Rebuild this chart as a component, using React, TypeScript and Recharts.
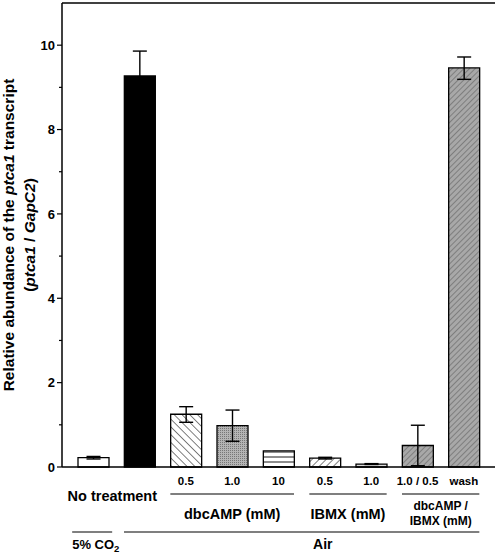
import { BarChart, Bar, XAxis, YAxis, Cell, ErrorBar, ReferenceLine } from 'recharts'

// one entry per bar, left to right
const CATEGORIES = ['co2', 'air', 'dbc05', 'dbc10', 'dbc100', 'ibmx05', 'ibmx10', 'mix', 'wash']
const TICK_LABELS = ['', '', '0.5', '1.0', '10', '0.5', '1.0', '1.0 / 0.5', 'wash']
const VALUES = [0.22, 9.27, 1.25, 0.98, 0.38, 0.21, 0.07, 0.51, 9.46]
// null = no error bar drawn
const ERR_LOW = [0.03, 0.6, 0.19, 0.37, null, 0.02, 0.01, 0.48, 0.27]
const ERR_HIGH = [0.03, 0.59, 0.18, 0.37, null, 0.02, 0.01, 0.48, 0.26]
const Y_TICKS = [0, 1, 2, 3, 4, 5, 6, 7, 8, 9, 10]

// treatment groups under the tick labels (index ranges into CATEGORIES)
const GROUPS = [
  { from: 2, to: 4, lines: ['dbcAMP (mM)'] },
  { from: 5, to: 6, lines: ['IBMX (mM)'] },
  { from: 7, to: 8, lines: ['dbcAMP /', 'IBMX (mM)'] },
]

const FILLS = ['#fff', '#000', 'url(#diagBack)', 'url(#dots)', 'url(#horiz)', 'url(#diagFwd)', '#dcdcdc', 'url(#grayDiag)', 'url(#grayDiag)']

const W = 498
const H = 553
const PAD = 8
const PLOT_LEFT = 62
const PLOT_RIGHT = 495
const STEP = (PLOT_RIGHT - PLOT_LEFT - 2 * PAD) / CATEGORIES.length
const BAR = 31
const HALF = BAR / 2
const FONT = 'Arial, "Liberation Sans", Helvetica, sans-serif'

const data = CATEGORIES.map((c, i) => ({
  cat: c,
  value: VALUES[i],
  err: ERR_LOW[i] == null ? null : [ERR_LOW[i], ERR_HIGH[i]],
}))

function XTick(props: any) {
  const { x, y, payload } = props
  const i = CATEGORIES.indexOf(payload.value)
  const txt = { fontFamily: FONT, fontWeight: 700, fill: '#000' }
  const group = GROUPS.find(g => g.from === i)
  return (
    <g>
      {TICK_LABELS[i] && (
        <text x={x} y={y + 18} textAnchor="middle" fontSize={11.5} {...txt}>{TICK_LABELS[i]}</text>
      )}
      {i === 0 && (
        <>
          <text x={x + STEP / 2 - 4} y={y + 34} textAnchor="middle" fontSize={14.5} {...txt}>No treatment</text>
          <line x1={x - 21} x2={x + 19} y1={y + 65} y2={y + 65} stroke="#000" strokeWidth={1.2} />
          <text x={x - 21} y={y + 82} fontSize={13} {...txt}>
            5% CO<tspan fontSize={9.5} dy={3}>2</tspan>
          </text>
        </>
      )}
      {i === 1 && (
        <>
          <line x1={x - HALF} x2={x + 7 * STEP + HALF} y1={y + 65} y2={y + 65} stroke="#000" strokeWidth={1.2} />
          <text x={x + 4 * STEP - 2} y={y + 82} textAnchor="middle" fontSize={14} {...txt}>Air</text>
        </>
      )}
      {group && (
        <>
          <line x1={x - HALF} x2={x + (group.to - group.from) * STEP + HALF} y1={y + 27} y2={y + 27} stroke="#000" strokeWidth={1.2} />
          {group.lines.length === 1 ? (
            <text x={x + (group.to - group.from) * STEP / 2} y={y + 52} textAnchor="middle" fontSize={14.5} {...txt}>{group.lines[0]}</text>
          ) : (
            group.lines.map((l, k) => (
              <text key={k} x={x + (group.to - group.from) * STEP / 2} y={y + 43 + k * 15} textAnchor="middle" fontSize={12} {...txt}>{l}</text>
            ))
          )}
        </>
      )}
    </g>
  )
}

function YTick(props: any) {
  const { y, payload } = props
  const major = payload.value % 2 === 0
  return (
    <g>
      <line x1={PLOT_LEFT - (major ? 5 : 3)} x2={PLOT_LEFT} y1={y} y2={y} stroke="#000" strokeWidth={1.2} />
      {major && (
        <text x={PLOT_LEFT - 7} y={y} dy="0.36em" textAnchor="end" fontSize={13} fontFamily={FONT} fontWeight={700} fill="#000">
          {payload.value}
        </text>
      )}
    </g>
  )
}

function YLabel(props: any) {
  const vb = props.viewBox ?? { y: 3, height: 464 }
  const cy = vb.y + vb.height / 2
  const txt = { fontFamily: FONT, fontWeight: 700, fontSize: 15.5, fill: '#000', textAnchor: 'middle' as const }
  return (
    <g>
      <text x={9} y={cy} dy="0.35em" transform={`rotate(-90 9 ${cy})`} {...txt}>
        Relative abundance of the <tspan fontStyle="italic">ptca1</tspan> transcript
      </text>
      <text x={30} y={cy} dy="0.35em" transform={`rotate(-90 30 ${cy})`} {...txt}>
        (<tspan fontStyle="italic">ptca1</tspan> / <tspan fontStyle="italic">GapC2</tspan>)
      </text>
    </g>
  )
}

export default function App() {
  return (
    <div style={{ position: 'absolute', left: 0, top: 0, width: W, height: H, background: '#fff' }}>
      <BarChart width={W} height={H} data={data} margin={{ top: 3, right: W - PLOT_RIGHT, left: 0, bottom: 0 }}>
        <defs>
          <pattern id="diagBack" width={5.5} height={5.5} patternUnits="userSpaceOnUse" patternTransform="rotate(-45)">
            <rect width={5.5} height={5.5} fill="#fff" />
            <line x1={0} y1={0} x2={0} y2={5.5} stroke="#000" strokeWidth={1} />
          </pattern>
          <pattern id="diagFwd" width={5} height={5} patternUnits="userSpaceOnUse" patternTransform="rotate(45)">
            <rect width={5} height={5} fill="#fff" />
            <line x1={0} y1={0} x2={0} y2={5} stroke="#000" strokeWidth={1} />
          </pattern>
          <pattern id="horiz" width={6} height={5} patternUnits="userSpaceOnUse">
            <rect width={6} height={5} fill="#fff" />
            <line x1={0} y1={2} x2={6} y2={2} stroke="#000" strokeWidth={0.9} />
          </pattern>
          <pattern id="dots" width={2} height={2} patternUnits="userSpaceOnUse">
            <rect width={2} height={2} fill="#b4b4b4" />
            <rect width={1} height={1} fill="#777" />
          </pattern>
          <pattern id="grayDiag" width={4} height={4} patternUnits="userSpaceOnUse" patternTransform="rotate(45)">
            <rect width={4} height={4} fill="#a8a8a8" />
            <line x1={0} y1={0} x2={0} y2={4} stroke="#555" strokeWidth={1} />
          </pattern>
        </defs>
        <XAxis
          dataKey="cat"
          height={H - 467}
          padding={{ left: PAD, right: PAD }}
          axisLine={{ stroke: '#000', strokeWidth: 1.5 }}
          tickLine={false}
          tickSize={0}
          tickMargin={0}
          interval={0}
          tick={<XTick />}
        />
        <YAxis
          width={PLOT_LEFT}
          domain={[0, 11]}
          ticks={Y_TICKS}
          interval={0}
          axisLine={{ stroke: '#000', strokeWidth: 1.5 }}
          tickLine={false}
          tick={<YTick />}
          label={{ content: <YLabel /> }}
        />
        <YAxis
          yAxisId="frame"
          orientation="right"
          width={0}
          tick={false}
          tickLine={false}
          axisLine={{ stroke: '#000', strokeWidth: 1.5 }}
        />
        <ReferenceLine y={11} stroke="#000" strokeWidth={1.5} />
        <Bar dataKey="value" barSize={BAR} stroke="#000" strokeWidth={1.3} isAnimationActive={false}>
          {data.map((d, i) => (
            <Cell key={d.cat} fill={FILLS[i]} />
          ))}
          <ErrorBar dataKey="err" width={7} stroke="#000" strokeWidth={1.4} isAnimationActive={false} />
        </Bar>
      </BarChart>
    </div>
  )
}
